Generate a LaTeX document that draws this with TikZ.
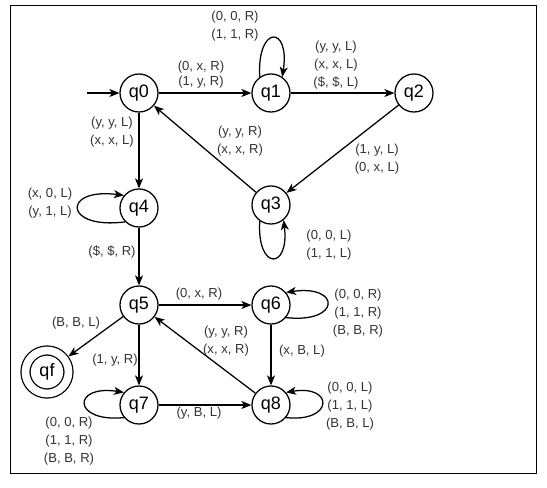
\documentclass[tikz,border=0pt]{standalone}
\usepackage{fontspec}
\setmainfont{Liberation Sans}
\usepackage{xcolor}
\definecolor{Ink}{HTML}{000000}
\definecolor{Muted}{HTML}{333333}
\usetikzlibrary{arrows.meta}
\tikzset{
  state/.style={circle,draw=Ink,fill=white,line width=0.95pt,minimum size=28.5pt,
    inner sep=0pt,font=\fontsize{13.5}{14}\selectfont},
  final/.style={state,minimum size=32.25pt,double,double distance=5.8pt,outer sep=3.8pt},
  flow/.style={-{Stealth[length=7.5pt,width=6pt,inset=2pt]},line width=0.95pt,draw=Ink},
  note/.style={font=\fontsize{9.8}{13.5}\selectfont,text=Muted,align=center,inner sep=0pt}
}
\begin{document}
\begin{tikzpicture}[x=0.75pt,y=-0.75pt]
  \useasboundingbox (0,0) rectangle (547,487);
  \draw[line width=0.75pt] (10,5) rectangle (536,473);
  % states
  \node[state] (q0) at (139,93) {q0};
  \node[state] (q1) at (271,93) {q1};
  \node[state] (q2) at (414,93) {q2};
  \node[state] (q3) at (271,205) {q3};
  \node[state] (q4) at (139,208) {q4};
  \node[state] (q5) at (139,305) {q5};
  \node[state] (q6) at (271,305) {q6};
  \node[state] (q7) at (139,405) {q7};
  \node[state] (q8) at (271,405) {q8};
  \node[final] (qf) at (47,372) {qf};
  \coordinate (start) at (87,93);
  % transitions
  \draw[flow] (start) -- (q0);
  \draw[flow] (q0) -- (q1);
  \draw[flow] (q1) -- (q2);
  \draw[flow] (q2) -- (q3);
  \draw[flow] (q3) -- (q0);
  \draw[flow] (q0) -- (q4);
  \draw[flow] (q4) -- (q5);
  \draw[flow] (q5) -- (q6);
  \draw[flow] (q5) -- (qf);
  \draw[flow] (q5) -- (q7);
  \draw[flow] (q6) -- (q8);
  \draw[flow] (q7) -- (q8);
  \draw[flow] (q8) -- (q5);
  % loops
  \draw[flow] (q1.125) .. controls +(-3,-52) and +(8,-52) .. (q1.55);
  \draw[flow] (q3.235) .. controls +(-3,50) and +(6,50) .. (q3.-50);
  \draw[flow] (q4.225) .. controls +(-62,8) and +(-62,-8) .. (q4.140);
  \draw[flow] (q6.-40) .. controls +(55,6) and +(55,-8) .. (q6.40);
  \draw[flow] (q8.-40) .. controls +(48,5) and +(48,-8) .. (q8.40);
  \draw[flow] (q7.220) .. controls +(-52,5) and +(-52,-8) .. (q7.140);
  % labels
  \node[note,font=\fontsize{9.8}{11.25}\selectfont] (l01) at (201,74.5) {(0, x, R)\\(1, y, R)};
  \node[note] (l11) at (235,26) {(0, 0, R)\\(1, 1, R)};
  \node[note] (l12) at (336,65.5) {(y, y, L)\\(x, x, L)\\(\$, \$, L)};
  \node[note] (l04) at (112,132.5) {(y, y, L)\\(x, x, L)};
  \node[note] (l30) at (240,141) {(y, y, R)\\(x, x, R)};
  \node[note] (l23) at (377,159) {(1, y, L)\\(0, x, L)};
  \node[note] (l44) at (50,203) {(x, 0, L)\\(y, 1, L)};
  \node[note] (l33) at (329,245) {(0, 0, L)\\(1, 1, L)};
  \node[note] (l45) at (112,252) {(\$, \$, R)};
  \node[note] (l56) at (199,294) {(0, x, R)};
  \node[note] (l66) at (358,313) {(0, 0, R)\\(1, 1, R)\\(B, B, R)};
  \node[note] (l5f) at (76,323) {(B, B, L)};
  \node[note] (l85) at (226,341.5) {(y, y, R)\\(x, x, R)};
  \node[note] (l68) at (302,351) {(x, B, L)};
  \node[note] (l57) at (115,360) {(1, y, R)};
  \node[note] (l88) at (350,406) {(0, 0, L)\\(1, 1, L)\\(B, B, L)};
  \node[note] (l78) at (199,413) {(y, B, L)};
  \node[note] (l77) at (69,441) {(0, 0, R)\\(1, 1, R)\\(B, B, R)};
\end{tikzpicture}
\end{document}
